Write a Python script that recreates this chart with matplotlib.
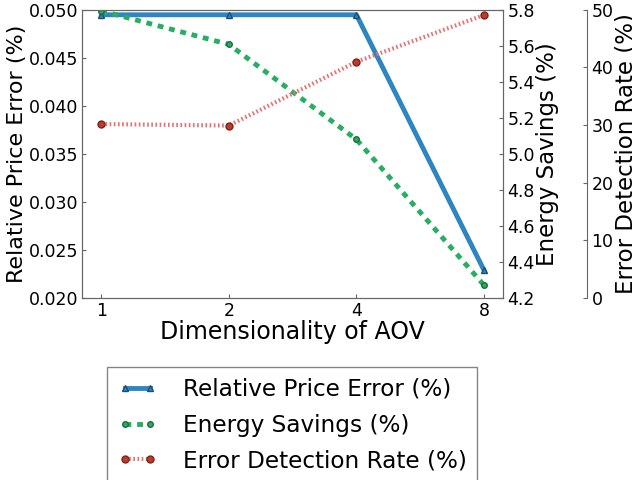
import matplotlib
matplotlib.use('Agg')
import matplotlib.pyplot as plt

dims = ['1', '2', '4', '8']
price_error = [0.04946, 0.04946, 0.04946, 0.02291]
energy_savings = [5.793, 5.607, 5.08, 4.272]
detection_rate = [30.16, 29.9, 40.95, 49.05]

plt.rcParams['font.family'] = 'DejaVu Sans'
spine_col = '#666666'


def style_axis(ax):
    for s in ax.spines.values():
        s.set_color(spine_col)
    ax.tick_params(direction='in', length=3, width=0.8, color=spine_col,
                   labelsize=12.5, pad=3)


fig = plt.figure(figsize=(6.32, 4.8), dpi=100)
ax = fig.add_axes([0.130, 0.379, 0.666, 0.601])
ax2 = ax.twinx()
ax3 = ax.twinx()
ax3.spines['right'].set_position(('axes', 1.2))
ax3.spines['left'].set_visible(False)
ax3.spines['top'].set_visible(False)
ax3.spines['bottom'].set_visible(False)

x = range(len(dims))
l1, = ax.plot(x, price_error, color='#2e86c1', linewidth=3.5, marker='^',
              markersize=4, markeredgecolor='#1b4f72',
              label='Relative Price Error (%)')
l2, = ax2.plot(x, energy_savings, color='#27ae60', linewidth=3.5,
               linestyle=(0, (1.2, 1.2)), marker='o', markersize=4,
               markeredgecolor='#1e6b3e', label='Energy Savings (%)')
l3, = ax3.plot(x, detection_rate, color='#e57373', linewidth=3,
               linestyle=(0, (0.4, 0.6)), marker='o', markersize=5,
               markerfacecolor='#c0392b', markeredgecolor='#7b241c',
               label='Error Detection Rate (%)')

ax.set_xlim(-0.15, 3.15)
ax.set_xticks(list(x))
ax.set_xticklabels(dims)
ax.set_ylim(0.020, 0.050)
ax.set_yticks([0.020, 0.025, 0.030, 0.035, 0.040, 0.045, 0.050])
ax.yaxis.set_major_formatter(matplotlib.ticker.FormatStrFormatter('%.3f'))
ax2.set_ylim(4.2, 5.8)
ax2.set_yticks([4.2, 4.4, 4.6, 4.8, 5.0, 5.2, 5.4, 5.6, 5.8])
ax3.set_ylim(0, 50)
ax3.set_yticks([0, 10, 20, 30, 40, 50])

for a in (ax, ax2, ax3):
    style_axis(a)
ax.tick_params(top=False, right=False)

ax.set_xlabel('Dimensionality of AOV', fontsize=17, labelpad=0)
ax.set_ylabel('Relative Price Error (%)', fontsize=16, labelpad=1)
ax2.set_ylabel('Energy Savings (%)', fontsize=16.5, labelpad=1)
ax3.set_ylabel('Error Detection Rate (%)', fontsize=16.5, labelpad=1)

leg = fig.legend(handles=[l1, l2, l3], loc='upper center',
                 bbox_to_anchor=(0.462, 0.235), fontsize=16.7, numpoints=2,
                 frameon=True, fancybox=False, handlelength=1.7,
                 labelspacing=0.56, borderpad=0.45, handletextpad=1.1,
                 borderaxespad=0)
leg.get_frame().set_edgecolor(spine_col)

fig.savefig('out.png', dpi=100)
